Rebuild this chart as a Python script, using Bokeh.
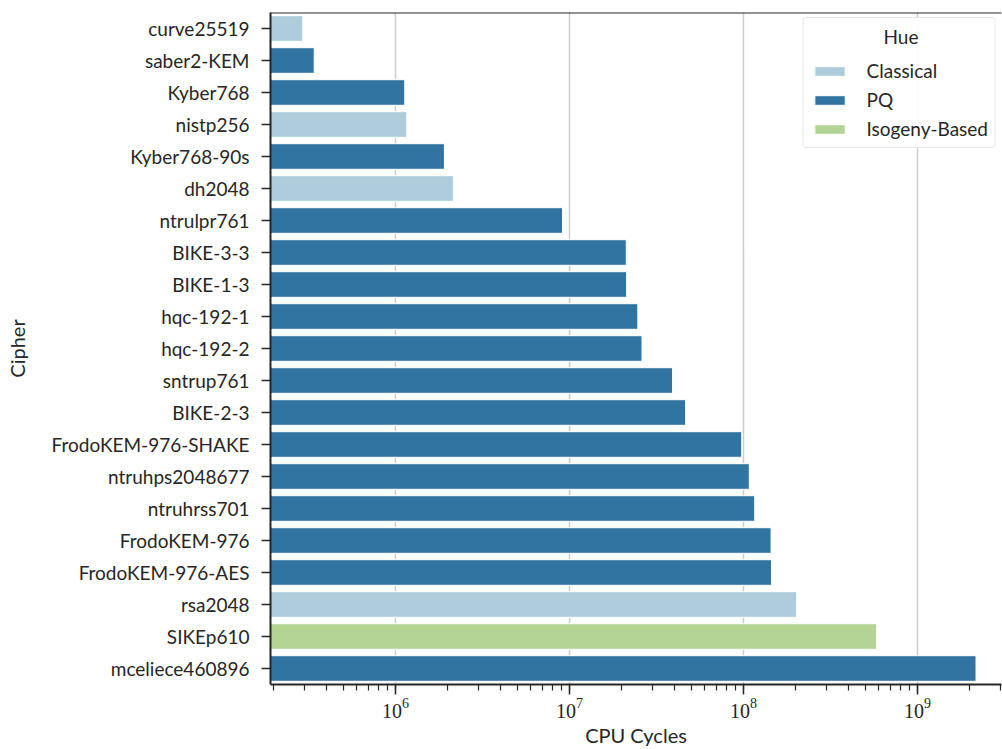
from bokeh.plotting import figure
from bokeh.models import (ColumnDataSource, FactorRange, Range1d, LogTicker,
                          FixedTicker, Legend, LegendItem, Span)
from bokeh.embed import file_html
from bokeh.resources import INLINE

ciphers = ["curve25519", "saber2-KEM", "Kyber768", "nistp256", "Kyber768-90s", "dh2048",
           "ntrulpr761", "BIKE-3-3", "BIKE-1-3", "hqc-192-1", "hqc-192-2", "sntrup761",
           "BIKE-2-3", "FrodoKEM-976-SHAKE", "ntruhps2048677", "ntruhrss701", "FrodoKEM-976",
           "FrodoKEM-976-AES", "rsa2048", "SIKEp610", "mceliece460896"]
hue = ["Classical", "PQ", "PQ", "Classical", "PQ", "Classical",
       "PQ", "PQ", "PQ", "PQ", "PQ", "PQ",
       "PQ", "PQ", "PQ", "PQ", "PQ",
       "PQ", "Classical", "Isogeny-Based", "PQ"]
cycles = [2.93e5, 3.41e5, 1.13e6, 1.16e6, 1.91e6, 2.15e6,
          9.12e6, 2.12e7, 2.13e7, 2.47e7, 2.61e7, 3.91e7,
          4.65e7, 9.77e7, 1.08e8, 1.16e8, 1.44e8,
          1.45e8, 2.02e8, 5.82e8, 2.17e9]
hue_order = ["Classical", "PQ", "Isogeny-Based"]
hue_colors = ["#aeccdb", "#3274a1", "#b3d495"]
decades = [1e6, 1e7, 1e8, 1e9]

SANS = "Lato"
DARK = "#262626"

p = figure(width=1002, height=749, output_backend="svg", toolbar_location=None,
           y_range=FactorRange(*reversed(ciphers), range_padding=0),
           x_range=Range1d(1.912e5, 3.04e9), x_axis_type="log",
           frame_width=731, frame_height=672,
           min_border_left=270, min_border_right=1, min_border_top=12, min_border_bottom=65)

p.outline_line_color = None
p.background_fill_color = "white"
p.border_fill_color = "white"

# grid
p.ygrid.grid_line_color = None
p.xgrid.grid_line_color = "#cccccc"
p.xgrid.grid_line_width = 1.5
p.xgrid.ticker = FixedTicker(ticks=decades)

legend_items = []
for h, c in zip(hue_order, hue_colors):
    idx = [i for i, v in enumerate(hue) if v == h]
    src = ColumnDataSource(dict(y=[ciphers[i] for i in idx],
                                right=[cycles[i] for i in idx],
                                left=[1.0 for _ in idx]))
    r = p.hbar(y="y", left="left", right="right", height=0.8, source=src,
               fill_color=c, line_color="white", line_width=1)
    legend_items.append(LegendItem(label=h, renderers=[r]))

# x axis
xa = p.xaxis[0]
xa.ticker = LogTicker(desired_num_ticks=4, num_minor_ticks=10)
xa.axis_label = "CPU Cycles"
xa.axis_label_text_font = SANS
xa.axis_label_text_font_size = "20px"
xa.axis_label_text_font_style = "normal"
xa.axis_label_text_color = DARK
xa.axis_label_standoff = 2
xa.major_label_text_font = "Liberation Serif"
xa.major_label_text_font_size = "20px"
xa.major_label_text_color = DARK
xa.major_label_standoff = 3
xa.axis_line_color = DARK
xa.axis_line_width = 2
xa.major_tick_line_color = DARK
xa.major_tick_line_width = 1.5
xa.major_tick_out = 10
xa.major_tick_in = 0
xa.minor_tick_line_color = DARK
xa.minor_tick_line_width = 1.2
xa.minor_tick_out = 6
xa.minor_tick_in = 0

# y axis
ya = p.yaxis[0]
ya.axis_label = "Cipher"
ya.axis_label_text_font = SANS
ya.axis_label_text_font_size = "20px"
ya.axis_label_text_font_style = "normal"
ya.axis_label_text_color = DARK
ya.axis_label_standoff = 20
ya.major_label_text_font = SANS
ya.major_label_text_font_size = "19px"
ya.major_label_text_color = DARK
ya.major_label_standoff = 12
ya.axis_line_color = DARK
ya.axis_line_width = 2
ya.major_tick_line_color = DARK
ya.major_tick_line_width = 1.5
ya.major_tick_out = 9
ya.major_tick_in = 0

# top spine (frame edge of the categorical range)
p.add_layout(Span(location=len(ciphers), dimension="width",
                  line_color=DARK, line_width=2))

legend = Legend(items=legend_items, location="top_right",
                title="\u00a0" * 15 + "Hue",
                title_text_font=SANS, title_text_font_size="19px",
                title_text_font_style="normal", title_text_color=DARK, title_standoff=11,
                label_text_font=SANS, label_text_font_size="19px", label_text_color=DARK,
                glyph_width=38, glyph_height=12, label_standoff=18, spacing=6,
                padding=7, margin=5,
                border_line_color="#d0d0d0", border_line_width=1,
                background_fill_alpha=0.9)
if "border_radius" in Legend.properties():
    legend.border_radius = 4
p.add_layout(legend)

open("out.html", "w").write(file_html(p, INLINE))
